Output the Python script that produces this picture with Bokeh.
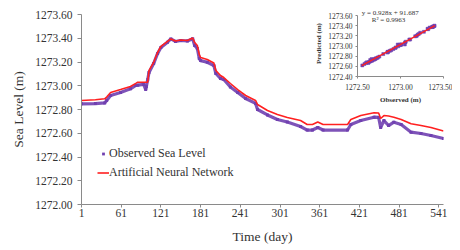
from bokeh.plotting import figure
from bokeh.models import (ColumnDataSource, FixedTicker, PrintfTickFormatter,
                          Range1d, Legend, LegendItem, Label)
from bokeh.embed import file_html
from bokeh.resources import INLINE

# ---------------- data ----------------
days = [1, 22, 36, 39, 45, 60, 75, 83, 86, 95, 98, 99, 101, 103, 110, 116, 121,
        131, 136, 143, 151, 161, 169, 172, 176, 179, 181, 191, 201, 204, 211, 216,
        226, 237, 249, 264, 267, 282, 297, 312, 332, 342, 350, 358, 366, 403, 408,
        423, 443, 450, 453, 458, 465, 473, 484, 499, 514, 529, 548]

observed = [1272.848, 1272.850, 1272.855, 1272.876, 1272.918, 1272.943, 1272.974,
            1273.002, 1273.005, 1273.011, 1272.968, 1272.994, 1273.050, 1273.112,
            1273.187, 1273.272, 1273.322, 1273.367, 1273.394, 1273.373, 1273.381,
            1273.377, 1273.395, 1273.339, 1273.314, 1273.229, 1273.212, 1273.198,
            1273.171, 1273.103, 1273.061, 1273.053, 1272.989, 1272.943, 1272.893,
            1272.851, 1272.800, 1272.754, 1272.716, 1272.695, 1272.657, 1272.627,
            1272.627, 1272.648, 1272.627, 1272.627, 1272.674, 1272.707, 1272.735,
            1272.733, 1272.648, 1272.707, 1272.665, 1272.693, 1272.674, 1272.609,
            1272.598, 1272.581, 1272.556]

ann = [1272.876, 1272.882, 1272.890, 1272.905, 1272.943, 1272.968, 1272.994,
       1273.020, 1273.030, 1273.030, 1273.030, 1273.030, 1273.030, 1273.128,
       1273.196, 1273.280, 1273.331, 1273.373, 1273.394, 1273.377, 1273.385,
       1273.381, 1273.402, 1273.364, 1273.339, 1273.262, 1273.238, 1273.221,
       1273.192, 1273.128, 1273.086, 1273.069, 1273.019, 1272.968, 1272.918,
       1272.876, 1272.842, 1272.792, 1272.758, 1272.733, 1272.707, 1272.674,
       1272.674, 1272.695, 1272.674, 1272.674, 1272.716, 1272.749, 1272.772,
       1272.771, 1272.724, 1272.749, 1272.745, 1272.735, 1272.716, 1272.680,
       1272.665, 1272.648, 1272.619]

x_ticks = [1, 61, 121, 181, 241, 301, 361, 421, 481, 541]
y_ticks = [1272.0, 1272.2, 1272.4, 1272.6, 1272.8, 1273.0, 1273.2, 1273.4, 1273.6]

inset_x_ticks = [1272.5, 1273.0, 1273.5]
inset_y_ticks = [1272.4, 1272.6, 1272.8, 1273.0, 1273.2, 1273.4, 1273.6]
trend_slope = 0.928
trend_intercept = 91.687
trend_x = [1272.55, 1273.40]
r_squared = 0.9963

PURPLE = "#7040B0"
RED = "#FF2020"
FONT = "Liberation Serif"
AXIS_COLOR = "#8A8A8A"
TEXT_COLOR = "#333333"

W, H = 452, 250

src = ColumnDataSource(dict(day=days, obs=observed, ann=ann))

# ---------------- main figure ----------------
p = figure(width=W, height=H, output_backend="svg", toolbar_location=None,
           x_range=Range1d(1, 548), y_range=Range1d(1272.0, 1273.6),
           min_border_left=81, min_border_right=9, min_border_top=14,
           min_border_bottom=46)
p.outline_line_color = None
p.grid.visible = False
p.background_fill_color = "white"

obs_line = p.line("day", "obs", source=src, line_color=PURPLE, line_width=3.2,
                  line_alpha=0.9)
obs_pts = p.scatter("day", "obs", source=src, marker="square", size=3,
                    fill_color=PURPLE, line_color=None)
ann_line = p.line("day", "ann", source=src, line_color=RED, line_width=1.6)

for ax in (p.xaxis[0], p.yaxis[0]):
    ax.axis_line_color = AXIS_COLOR
    ax.major_tick_line_color = AXIS_COLOR
    ax.minor_tick_line_color = None
    ax.major_tick_in = 0
    ax.major_tick_out = 4
    ax.major_label_text_font = FONT
    ax.major_label_text_font_size = "11.5px"
    ax.major_label_text_color = TEXT_COLOR
    ax.axis_label_text_font = FONT
    ax.axis_label_text_font_size = "13.5px"
    ax.axis_label_text_font_style = "normal"
    ax.axis_label_text_color = TEXT_COLOR

p.xaxis.ticker = FixedTicker(ticks=x_ticks)
p.xaxis.major_tick_out = 3
p.xaxis.major_label_standoff = 1
p.xaxis.axis_label = "Time (day)"
p.xaxis.axis_label_standoff = 9
p.yaxis.ticker = FixedTicker(ticks=y_ticks)
p.yaxis.formatter = PrintfTickFormatter(format="%.2f")
p.yaxis.major_label_standoff = 5
p.yaxis.axis_label = "Sea Level (m)"
p.yaxis.axis_label_standoff = 6

legend = Legend(items=[LegendItem(label="Observed Sea Level", renderers=[obs_pts]),
                       LegendItem(label="Artificial Neural Network", renderers=[ann_line])],
                location=(16, 24), glyph_width=12, glyph_height=7, label_standoff=0,
                padding=0, margin=0, spacing=4, border_line_color=None,
                background_fill_alpha=0, label_text_font=FONT,
                label_text_font_size="12px", label_text_color=TEXT_COLOR,
                label_height=14)
p.add_layout(legend)

# ---------------- inset: separate root, transparent overlay of the same size ----------------
inset = figure(width=W, height=H, output_backend="svg", toolbar_location=None,
               x_range=Range1d(1272.5, 1273.5), y_range=Range1d(1272.4, 1273.7),
               min_border_left=357, min_border_right=9, min_border_top=10,
               min_border_bottom=174,
               styles={"position": "absolute", "left": "0px", "top": "0px"})
inset.outline_line_color = None
inset.grid.visible = False
inset.background_fill_alpha = 0
inset.border_fill_alpha = 0
inset.scatter("obs", "ann", source=src, marker="square", size=3,
              fill_color=PURPLE, line_color=PURPLE, line_width=0.5)
trend_y = [trend_slope * v + trend_intercept for v in trend_x]
inset.line(trend_x, trend_y, line_color=RED, line_width=1.3)

for ax in (inset.xaxis[0], inset.yaxis[0]):
    ax.axis_line_color = AXIS_COLOR
    ax.major_tick_line_color = AXIS_COLOR
    ax.minor_tick_line_color = None
    ax.major_tick_in = 0
    ax.major_tick_out = 2
    ax.major_label_text_font = FONT
    ax.major_label_text_font_size = "7.5px"
    ax.major_label_text_color = TEXT_COLOR
    ax.major_label_standoff = 3
    ax.axis_label_text_font = FONT
    ax.axis_label_text_font_size = "7px"
    ax.axis_label_text_font_style = "bold"
    ax.axis_label_text_color = TEXT_COLOR
    ax.axis_label_standoff = 2

inset.xaxis.ticker = FixedTicker(ticks=inset_x_ticks)
inset.xaxis.formatter = PrintfTickFormatter(format="%.2f")
inset.xaxis.axis_label = "Observed (m)"
inset.xaxis.major_label_standoff = 5
inset.xaxis.axis_label_standoff = 3
inset.yaxis.ticker = FixedTicker(ticks=inset_y_ticks)
inset.yaxis.formatter = PrintfTickFormatter(format="%.2f")
inset.yaxis.axis_label = "Predicted (m)"
inset.yaxis.bounds = (1272.4, 1273.6)

inset.add_layout(Label(x=1272.88, y=1273.645,
                       text="y = %.3fx + %.3f" % (trend_slope, trend_intercept),
                       text_font=FONT, text_font_size="7px", text_color=TEXT_COLOR,
                       text_align="center", text_baseline="middle"))
inset.add_layout(Label(x=1272.86, y=1273.515, text="R² = %.4f" % r_squared,
                       text_font=FONT, text_font_size="7px", text_color=TEXT_COLOR,
                       text_align="center", text_baseline="middle"))

open("out.html", "w").write(file_html([p, inset], INLINE))
